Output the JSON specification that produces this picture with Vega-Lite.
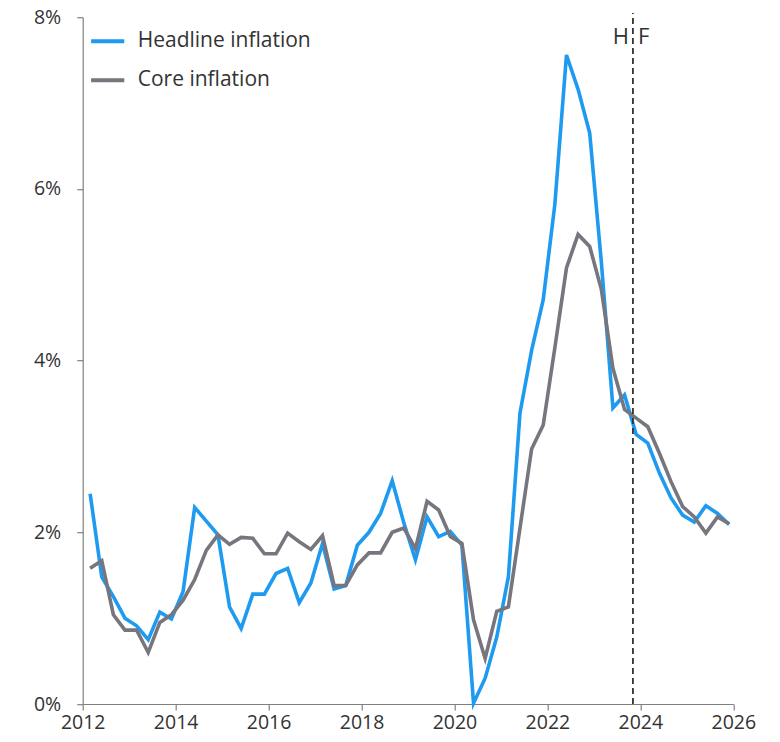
{
  "$schema": "https://vega.github.io/schema/vega-lite/v6.json",
  "width": 650.6,
  "height": 686.8,
  "autosize": {"type": "none"},
  "padding": {"left": 82.7, "top": 17.2, "right": 46.7, "bottom": 38},
  "background": "white",
  "config": {
    "view": {"stroke": null},
    "font": "Open Sans",
    "axis": {
      "grid": false,
      "domainColor": "#808080",
      "tickColor": "#808080",
      "domainWidth": 1.2,
      "tickWidth": 1.2,
      "tickSize": 6,
      "labelFont": "Open Sans",
      "labelFontSize": 19.5,
      "labelColor": "#333333",
      "title": null
    }
  },
  "datasets": {
    "series": [
      {"t": 2012.16, "s": "Headline inflation", "v": 2.45},
      {"t": 2012.41, "s": "Headline inflation", "v": 1.48},
      {"t": 2012.66, "s": "Headline inflation", "v": 1.25},
      {"t": 2012.91, "s": "Headline inflation", "v": 1.00},
      {"t": 2013.16, "s": "Headline inflation", "v": 0.91},
      {"t": 2013.41, "s": "Headline inflation", "v": 0.75},
      {"t": 2013.66, "s": "Headline inflation", "v": 1.07},
      {"t": 2013.91, "s": "Headline inflation", "v": 0.99},
      {"t": 2014.16, "s": "Headline inflation", "v": 1.31},
      {"t": 2014.41, "s": "Headline inflation", "v": 2.29},
      {"t": 2014.66, "s": "Headline inflation", "v": 2.13},
      {"t": 2014.91, "s": "Headline inflation", "v": 1.97},
      {"t": 2015.16, "s": "Headline inflation", "v": 1.13},
      {"t": 2015.41, "s": "Headline inflation", "v": 0.88},
      {"t": 2015.66, "s": "Headline inflation", "v": 1.28},
      {"t": 2015.91, "s": "Headline inflation", "v": 1.28},
      {"t": 2016.16, "s": "Headline inflation", "v": 1.52},
      {"t": 2016.41, "s": "Headline inflation", "v": 1.58},
      {"t": 2016.66, "s": "Headline inflation", "v": 1.18},
      {"t": 2016.91, "s": "Headline inflation", "v": 1.41},
      {"t": 2017.16, "s": "Headline inflation", "v": 1.87},
      {"t": 2017.41, "s": "Headline inflation", "v": 1.34},
      {"t": 2017.66, "s": "Headline inflation", "v": 1.38},
      {"t": 2017.91, "s": "Headline inflation", "v": 1.85},
      {"t": 2018.16, "s": "Headline inflation", "v": 2.00},
      {"t": 2018.41, "s": "Headline inflation", "v": 2.22},
      {"t": 2018.66, "s": "Headline inflation", "v": 2.60},
      {"t": 2018.91, "s": "Headline inflation", "v": 2.11},
      {"t": 2019.16, "s": "Headline inflation", "v": 1.68},
      {"t": 2019.41, "s": "Headline inflation", "v": 2.18},
      {"t": 2019.66, "s": "Headline inflation", "v": 1.95},
      {"t": 2019.91, "s": "Headline inflation", "v": 2.01},
      {"t": 2020.16, "s": "Headline inflation", "v": 1.85},
      {"t": 2020.41, "s": "Headline inflation", "v": 0.01},
      {"t": 2020.66, "s": "Headline inflation", "v": 0.30},
      {"t": 2020.91, "s": "Headline inflation", "v": 0.78},
      {"t": 2021.16, "s": "Headline inflation", "v": 1.48},
      {"t": 2021.41, "s": "Headline inflation", "v": 3.39},
      {"t": 2021.66, "s": "Headline inflation", "v": 4.12},
      {"t": 2021.91, "s": "Headline inflation", "v": 4.71},
      {"t": 2022.16, "s": "Headline inflation", "v": 5.82},
      {"t": 2022.41, "s": "Headline inflation", "v": 7.56},
      {"t": 2022.66, "s": "Headline inflation", "v": 7.16},
      {"t": 2022.91, "s": "Headline inflation", "v": 6.65},
      {"t": 2023.16, "s": "Headline inflation", "v": 5.15},
      {"t": 2023.41, "s": "Headline inflation", "v": 3.45},
      {"t": 2023.66, "s": "Headline inflation", "v": 3.60},
      {"t": 2023.91, "s": "Headline inflation", "v": 3.14},
      {"t": 2024.16, "s": "Headline inflation", "v": 3.04},
      {"t": 2024.41, "s": "Headline inflation", "v": 2.69},
      {"t": 2024.66, "s": "Headline inflation", "v": 2.40},
      {"t": 2024.91, "s": "Headline inflation", "v": 2.20},
      {"t": 2025.16, "s": "Headline inflation", "v": 2.12},
      {"t": 2025.41, "s": "Headline inflation", "v": 2.31},
      {"t": 2025.66, "s": "Headline inflation", "v": 2.22},
      {"t": 2025.91, "s": "Headline inflation", "v": 2.09},
      {"t": 2012.16, "s": "Core inflation", "v": 1.58},
      {"t": 2012.41, "s": "Core inflation", "v": 1.67},
      {"t": 2012.66, "s": "Core inflation", "v": 1.04},
      {"t": 2012.91, "s": "Core inflation", "v": 0.86},
      {"t": 2013.16, "s": "Core inflation", "v": 0.86},
      {"t": 2013.41, "s": "Core inflation", "v": 0.60},
      {"t": 2013.66, "s": "Core inflation", "v": 0.95},
      {"t": 2013.91, "s": "Core inflation", "v": 1.04},
      {"t": 2014.16, "s": "Core inflation", "v": 1.21},
      {"t": 2014.41, "s": "Core inflation", "v": 1.45},
      {"t": 2014.66, "s": "Core inflation", "v": 1.79},
      {"t": 2014.91, "s": "Core inflation", "v": 1.97},
      {"t": 2015.16, "s": "Core inflation", "v": 1.86},
      {"t": 2015.41, "s": "Core inflation", "v": 1.94},
      {"t": 2015.66, "s": "Core inflation", "v": 1.93},
      {"t": 2015.91, "s": "Core inflation", "v": 1.75},
      {"t": 2016.16, "s": "Core inflation", "v": 1.75},
      {"t": 2016.41, "s": "Core inflation", "v": 1.99},
      {"t": 2016.66, "s": "Core inflation", "v": 1.89},
      {"t": 2016.91, "s": "Core inflation", "v": 1.80},
      {"t": 2017.16, "s": "Core inflation", "v": 1.96},
      {"t": 2017.41, "s": "Core inflation", "v": 1.38},
      {"t": 2017.66, "s": "Core inflation", "v": 1.38},
      {"t": 2017.91, "s": "Core inflation", "v": 1.62},
      {"t": 2018.16, "s": "Core inflation", "v": 1.76},
      {"t": 2018.41, "s": "Core inflation", "v": 1.76},
      {"t": 2018.66, "s": "Core inflation", "v": 2.00},
      {"t": 2018.91, "s": "Core inflation", "v": 2.05},
      {"t": 2019.16, "s": "Core inflation", "v": 1.81},
      {"t": 2019.41, "s": "Core inflation", "v": 2.36},
      {"t": 2019.66, "s": "Core inflation", "v": 2.26},
      {"t": 2019.91, "s": "Core inflation", "v": 1.95},
      {"t": 2020.16, "s": "Core inflation", "v": 1.87},
      {"t": 2020.41, "s": "Core inflation", "v": 0.98},
      {"t": 2020.66, "s": "Core inflation", "v": 0.53},
      {"t": 2020.91, "s": "Core inflation", "v": 1.08},
      {"t": 2021.16, "s": "Core inflation", "v": 1.13},
      {"t": 2021.41, "s": "Core inflation", "v": 2.05},
      {"t": 2021.66, "s": "Core inflation", "v": 2.97},
      {"t": 2021.91, "s": "Core inflation", "v": 3.25},
      {"t": 2022.16, "s": "Core inflation", "v": 4.15},
      {"t": 2022.41, "s": "Core inflation", "v": 5.08},
      {"t": 2022.66, "s": "Core inflation", "v": 5.47},
      {"t": 2022.91, "s": "Core inflation", "v": 5.33},
      {"t": 2023.16, "s": "Core inflation", "v": 4.83},
      {"t": 2023.41, "s": "Core inflation", "v": 3.91},
      {"t": 2023.66, "s": "Core inflation", "v": 3.43},
      {"t": 2023.91, "s": "Core inflation", "v": 3.33},
      {"t": 2024.16, "s": "Core inflation", "v": 3.23},
      {"t": 2024.41, "s": "Core inflation", "v": 2.92},
      {"t": 2024.66, "s": "Core inflation", "v": 2.59},
      {"t": 2024.91, "s": "Core inflation", "v": 2.30},
      {"t": 2025.16, "s": "Core inflation", "v": 2.18},
      {"t": 2025.41, "s": "Core inflation", "v": 1.99},
      {"t": 2025.66, "s": "Core inflation", "v": 2.18},
      {"t": 2025.91, "s": "Core inflation", "v": 2.10}
    ],
    "marker": [{"t": 2023.84, "y0": 0, "y1": 8.05}],
    "labels": [
      {"t": 2023.84, "y": 7.77, "label": "H", "side": "left"},
      {"t": 2023.84, "y": 7.77, "label": "F", "side": "right"}
    ]
  },
  "layer": [
    {
      "data": {"name": "series"},
      "mark": {"type": "line", "strokeWidth": 3.6, "strokeJoin": "miter", "strokeCap": "butt"},
      "encoding": {
        "x": {
          "field": "t", "type": "quantitative",
          "scale": {"domain": [2012, 2026], "nice": false, "zero": false},
          "axis": {"values": [2012, 2014, 2016, 2018, 2020, 2022, 2024, 2026], "format": "d", "labelPadding": 3, "labelFlush": false}
        },
        "y": {
          "field": "v", "type": "quantitative",
          "scale": {"domain": [0, 8], "nice": false},
          "axis": {"values": [0, 2, 4, 6, 8], "labelExpr": "datum.value + '%'", "labelPadding": 16}
        },
        "color": {
          "field": "s", "type": "nominal",
          "scale": {"domain": ["Headline inflation", "Core inflation"], "range": ["#1E9BF0", "#77757D"]},
          "legend": {
            "title": null,
            "orient": "none",
            "legendX": 6,
            "legendY": 5,
            "padding": 0,
            "symbolType": "stroke",
            "symbolSize": 1100,
            "symbolStrokeWidth": 4,
            "labelFont": "Open Sans",
            "labelFontSize": 21,
            "labelColor": "#333333",
            "labelOffset": 11,
            "labelLimit": 400,
            "rowPadding": 10
          }
        }
      }
    },
    {
      "data": {"name": "marker"},
      "mark": {"type": "rule", "color": "#333333", "strokeWidth": 1.8, "strokeDash": [6, 4]},
      "encoding": {
        "x": {"field": "t", "type": "quantitative"},
        "y": {"field": "y0", "type": "quantitative"},
        "y2": {"field": "y1"}
      }
    },
    {
      "data": {"name": "labels"},
      "transform": [{"filter": "datum.side == 'left'"}],
      "mark": {"type": "text", "align": "right", "baseline": "middle", "dx": -4, "fontSize": 22, "font": "Open Sans", "color": "#333333"},
      "encoding": {
        "x": {"field": "t", "type": "quantitative"},
        "y": {"field": "y", "type": "quantitative"},
        "text": {"field": "label"}
      }
    },
    {
      "data": {"name": "labels"},
      "transform": [{"filter": "datum.side == 'right'"}],
      "mark": {"type": "text", "align": "left", "baseline": "middle", "dx": 5, "fontSize": 22, "font": "Open Sans", "color": "#333333"},
      "encoding": {
        "x": {"field": "t", "type": "quantitative"},
        "y": {"field": "y", "type": "quantitative"},
        "text": {"field": "label"}
      }
    }
  ]
}
